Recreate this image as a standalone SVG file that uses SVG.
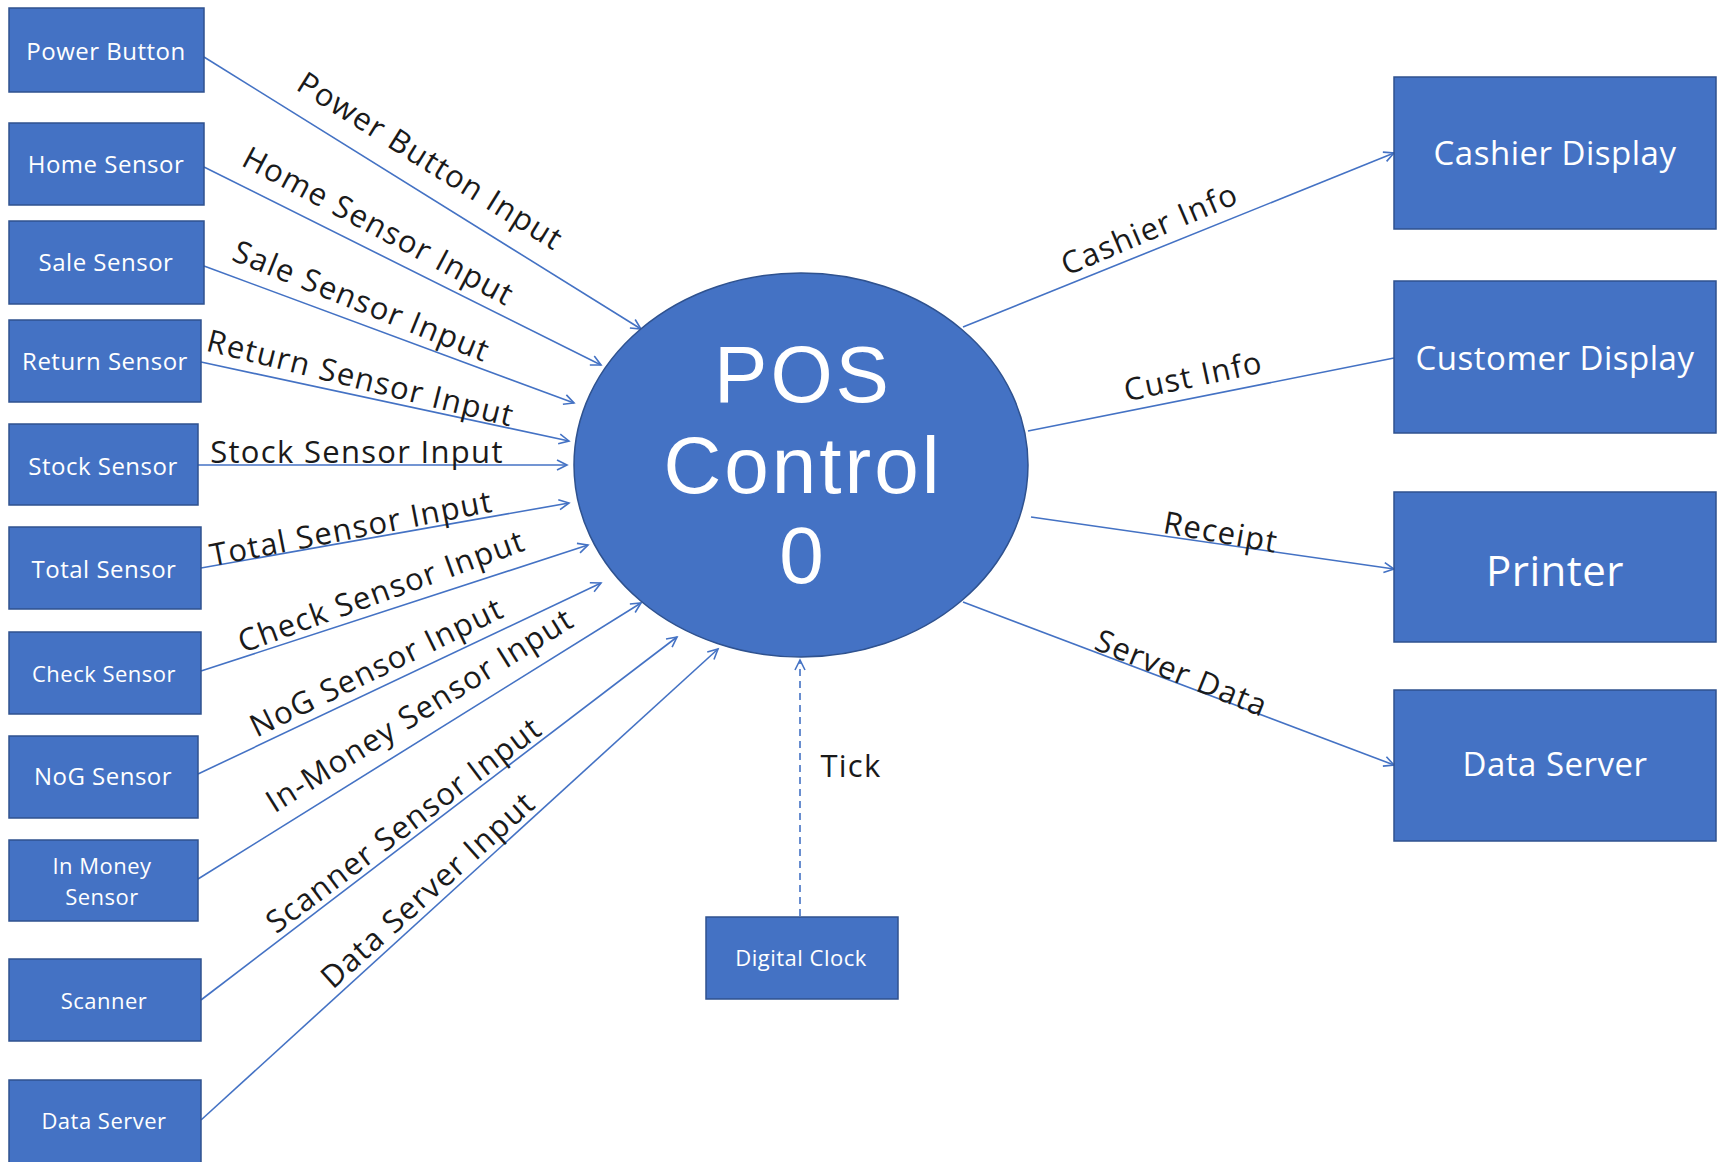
<svg xmlns="http://www.w3.org/2000/svg" width="1719" height="1162" viewBox="0 0 1719 1162">
<style>
.box{fill:#4472C4;stroke:#2F528F;stroke-width:1.5}
.bl{fill:#FFFFFF;font-family:"Open Sans","Noto Sans",sans-serif;text-anchor:middle;dominant-baseline:central;letter-spacing:0.5px}
.el{fill:#1a1a1a;font-family:"Open Sans","Noto Sans",sans-serif;font-size:31px;letter-spacing:1.3px;text-anchor:middle;dominant-baseline:central}
.ln{stroke:#4472C4;stroke-width:1.6;fill:none}
.dash{stroke-dasharray:7 5}
.pos{fill:#FFFFFF;font-family:"Liberation Sans",Arial,sans-serif;font-size:80px;letter-spacing:3px;text-anchor:middle}
</style>
<defs>
<marker id="arr" markerUnits="userSpaceOnUse" markerWidth="14" markerHeight="14" refX="11" refY="6" orient="auto">
<path d="M1,1 L11,6 L1,11" fill="none" stroke="#4472C4" stroke-width="1.6"/>
</marker>
</defs>
<rect width="1719" height="1162" fill="#FFFFFF"/>
<g id="connectors">
<line class="ln" x1="204" y1="57" x2="641" y2="329" marker-end="url(#arr)"/>
<line class="ln" x1="204" y1="167" x2="601" y2="365" marker-end="url(#arr)"/>
<line class="ln" x1="204" y1="266" x2="574" y2="403" marker-end="url(#arr)"/>
<line class="ln" x1="201" y1="362" x2="569" y2="441" marker-end="url(#arr)"/>
<line class="ln" x1="198" y1="465" x2="567" y2="465" marker-end="url(#arr)"/>
<line class="ln" x1="201" y1="568" x2="569" y2="503" marker-end="url(#arr)"/>
<line class="ln" x1="201" y1="671" x2="588" y2="545" marker-end="url(#arr)"/>
<line class="ln" x1="198" y1="774" x2="601" y2="583" marker-end="url(#arr)"/>
<line class="ln" x1="198" y1="879" x2="641" y2="603" marker-end="url(#arr)"/>
<line class="ln" x1="201" y1="1000" x2="677" y2="637" marker-end="url(#arr)"/>
<line class="ln" x1="201" y1="1120" x2="718" y2="649" marker-end="url(#arr)"/>
<line class="ln dash" x1="800" y1="916" x2="800" y2="660" marker-end="url(#arr)"/>
<line class="ln" x1="963" y1="327" x2="1394" y2="153" marker-end="url(#arr)"/>
<line class="ln" x1="1028" y1="431" x2="1394" y2="358"/>
<line class="ln" x1="1031" y1="517" x2="1394" y2="569" marker-end="url(#arr)"/>
<line class="ln" x1="963" y1="602" x2="1394" y2="765" marker-end="url(#arr)"/>
<text class="el" x="431" y="160" transform="rotate(32 431 160)">Power Button Input</text>
<text class="el" x="379" y="225" transform="rotate(28 379 225)">Home Sensor Input</text>
<text class="el" x="362" y="300" transform="rotate(22 362 300)">Sale Sensor Input</text>
<text class="el" x="361" y="377" transform="rotate(14 361 377)">Return Sensor Input</text>
<text class="el" x="357" y="451">Stock Sensor Input</text>
<text class="el" x="351" y="527" transform="rotate(-11 351 527)">Total Sensor Input</text>
<text class="el" x="381" y="590" transform="rotate(-20 381 590)">Check Sensor Input</text>
<text class="el" x="376" y="666" transform="rotate(-26 376 666)">NoG Sensor Input</text>
<text class="el" x="419" y="709" transform="rotate(-32 419 709)">In-Money Sensor Input</text>
<text class="el" x="403" y="824" transform="rotate(-37 403 824)">Scanner Sensor Input</text>
<text class="el" x="427" y="889" transform="rotate(-42 427 889)">Data Server Input</text>
<text class="el" x="851" y="765">Tick</text>
<text class="el" x="1149" y="228" transform="rotate(-23 1149 228)">Cashier Info</text>
<text class="el" x="1193" y="375" transform="rotate(-12 1193 375)">Cust Info</text>
<text class="el" x="1221" y="531" transform="rotate(10 1221 531)">Receipt</text>
<text class="el" x="1182" y="672" transform="rotate(22 1182 672)">Server Data</text>
</g>
<g id="pos-control">
<ellipse cx="801" cy="465" rx="227" ry="192" fill="#4472C4" stroke="#2F528F" stroke-width="1.5"/>
<text class="pos"><tspan x="803" y="402">POS</tspan><tspan x="803" y="493">Control</tspan><tspan x="803" y="583">0</tspan></text>
</g>
<g id="power-button"><rect class="box" x="9" y="8" width="195" height="84"/><text class="bl" x="106" y="50" font-size="24">Power Button</text></g>
<g id="home-sensor"><rect class="box" x="9" y="123" width="195" height="82"/><text class="bl" x="106" y="163" font-size="24">Home Sensor</text></g>
<g id="sale-sensor"><rect class="box" x="9" y="221" width="195" height="83"/><text class="bl" x="106" y="261" font-size="24">Sale Sensor</text></g>
<g id="return-sensor"><rect class="box" x="9" y="320" width="192" height="82"/><text class="bl" x="105" y="360" font-size="24">Return Sensor</text></g>
<g id="stock-sensor"><rect class="box" x="9" y="424" width="189" height="81"/><text class="bl" x="103" y="465" font-size="24">Stock Sensor</text></g>
<g id="total-sensor"><rect class="box" x="9" y="527" width="192" height="82"/><text class="bl" x="104" y="568" font-size="24">Total Sensor</text></g>
<g id="check-sensor"><rect class="box" x="9" y="632" width="192" height="82"/><text class="bl" x="104" y="673" font-size="22">Check Sensor</text></g>
<g id="nog-sensor"><rect class="box" x="9" y="736" width="189" height="82"/><text class="bl" x="103" y="775" font-size="24">NoG Sensor</text></g>
<g id="in-money-sensor"><rect class="box" x="9" y="840" width="189" height="81"/><text class="bl" font-size="22" letter-spacing="1.5"><tspan x="102" y="865">In Money</tspan><tspan x="102" y="896">Sensor</tspan></text></g>
<g id="scanner"><rect class="box" x="9" y="959" width="192" height="82"/><text class="bl" x="104" y="1000" font-size="22">Scanner</text></g>
<g id="data-server-in"><rect class="box" x="9" y="1080" width="192" height="90"/><text class="bl" x="104" y="1120" font-size="22">Data Server</text></g>
<g id="digital-clock"><rect class="box" x="706" y="917" width="192" height="82"/><text class="bl" x="801" y="957" font-size="22">Digital Clock</text></g>
<g id="cashier-display"><rect class="box" x="1394" y="77" width="322" height="152"/><text class="bl" x="1555" y="152" font-size="33">Cashier Display</text></g>
<g id="customer-display"><rect class="box" x="1394" y="281" width="322" height="152"/><text class="bl" x="1555" y="357" font-size="33">Customer Display</text></g>
<g id="printer"><rect class="box" x="1394" y="492" width="322" height="150"/><text class="bl" x="1555" y="569" font-size="42">Printer</text></g>
<g id="data-server-out"><rect class="box" x="1394" y="690" width="322" height="151"/><text class="bl" x="1555" y="763" font-size="33">Data Server</text></g>
</svg>
